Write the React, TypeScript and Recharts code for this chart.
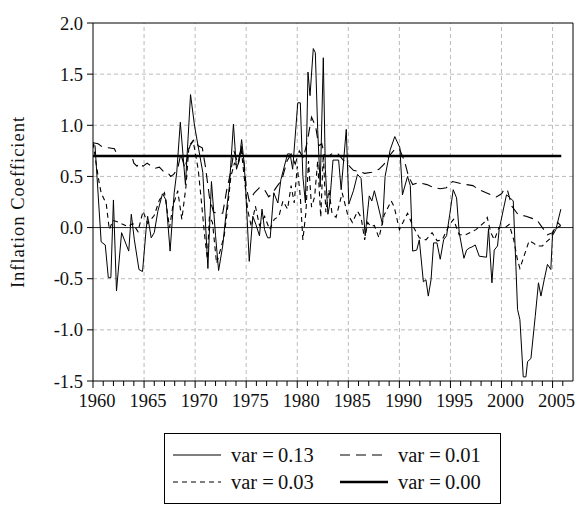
import React from 'react';
import { LineChart, Line, XAxis, YAxis, ReferenceLine, Label } from 'recharts';

type Pt = [number, number];

// var = 0.13 (thin solid, most volatile)
const var013: Pt[] = [
  [1960.0, 0.82], [1960.2, 0.8], [1960.8, -0.14], [1961.2, -0.17], [1961.5, -0.49], [1961.75, -0.49],
  [1962.0, 0.27], [1962.3, -0.62], [1962.8, -0.05], [1963.5, -0.23], [1963.75, 0.13], [1964.05, -0.12],
  [1964.5, -0.41], [1964.85, -0.43], [1965.2, -0.02], [1965.35, 0.11], [1965.7, -0.1], [1966.0, -0.05],
  [1966.35, 0.16], [1966.8, 0.33], [1967.15, 0.27], [1967.55, -0.23], [1967.95, 0.34], [1968.2, 0.54],
  [1968.55, 1.03], [1969.05, 0.42], [1969.55, 1.3], [1969.95, 0.99], [1970.75, 0.54], [1971.25, -0.4],
  [1971.6, 0.45], [1972.0, -0.08], [1972.3, -0.42], [1972.7, -0.18], [1973.0, 0.11], [1973.35, 0.4],
  [1973.75, 1.01], [1974.05, 0.57], [1974.35, 0.67], [1974.55, 0.86], [1974.8, 0.63], [1974.95, 0.37],
  [1975.3, -0.33], [1975.65, 0.11], [1975.95, 0.03], [1976.3, -0.08], [1976.55, 0.18], [1976.8, -0.02],
  [1977.1, -0.1], [1977.35, -0.1], [1977.7, 0.34], [1978.1, 0.24], [1978.4, 0.47], [1979.05, 0.72],
  [1979.3, 0.72], [1979.55, 0.57], [1980.05, 1.22], [1980.3, 1.22], [1980.55, 0.5], [1980.8, 0.24],
  [1981.05, 1.52], [1981.25, 1.29], [1981.57, 1.75], [1981.77, 1.71], [1982.0, 0.96], [1982.25, 0.4],
  [1982.55, 1.66], [1982.75, 0.57], [1983.0, 0.13], [1983.15, 0.21], [1983.5, 0.66], [1984.05, 0.66],
  [1984.3, 0.37], [1984.8, 0.96], [1985.05, 0.23], [1985.5, 0.36], [1985.9, 0.52], [1986.25, 0.48],
  [1986.65, -0.08], [1987.05, 0.31], [1987.3, 0.26], [1987.55, 0.36], [1987.85, 0.24], [1988.35, 0.03],
  [1988.6, 0.5], [1989.1, 0.76], [1989.55, 0.89], [1990.05, 0.78], [1990.3, 0.32], [1990.8, 0.5],
  [1991.07, 0.41], [1991.3, -0.23], [1991.7, -0.22], [1991.95, -0.12], [1992.35, -0.53], [1992.6, -0.51],
  [1992.83, -0.67], [1993.1, -0.51], [1993.35, -0.15], [1993.68, -0.15], [1994.0, -0.31], [1994.33, -0.12],
  [1994.62, -0.08], [1994.95, 0.14], [1995.27, 0.37], [1995.6, 0.29], [1995.86, -0.05], [1996.32, -0.3],
  [1996.58, -0.22], [1996.85, -0.2], [1997.1, -0.19], [1997.43, -0.17], [1997.82, -0.28], [1998.53, -0.29],
  [1998.73, -0.01], [1999.06, -0.54], [1999.29, -0.22], [1999.61, -0.18], [1999.77, -0.02], [2000.25, 0.21],
  [2000.49, 0.32], [2000.85, 0.29], [2001.15, 0.26], [2001.41, -0.38], [2001.57, -0.8], [2001.8, -0.9],
  [2002.13, -1.46], [2002.39, -1.46], [2002.55, -1.31], [2002.88, -1.28], [2003.3, -0.87], [2003.62, -0.54],
  [2003.86, -0.67], [2004.18, -0.51], [2004.5, -0.36], [2004.83, -0.41], [2004.99, -0.08], [2005.32, -0.02],
  [2005.81, 0.18],
];

// var = 0.01 (long dashes)
const var001: Pt[] = [
  [1960.0, 0.83], [1960.5, 0.82], [1960.9, 0.79], [1961.5, 0.78], [1962.1, 0.77], [1962.4, 0.7],
  [1963.8, 0.7], [1964.0, 0.63], [1964.3, 0.6], [1964.6, 0.63], [1964.9, 0.6], [1965.3, 0.63],
  [1965.7, 0.6], [1966.1, 0.58], [1966.5, 0.59], [1966.9, 0.55], [1967.3, 0.54], [1967.6, 0.5],
  [1967.9, 0.52], [1968.3, 0.58], [1968.6, 0.72], [1969.0, 0.58], [1969.5, 0.8], [1969.9, 0.86],
  [1970.3, 0.8], [1970.7, 0.78], [1971.0, 0.6], [1971.4, 0.3], [1971.8, 0.15], [1972.3, 0.14],
  [1972.7, 0.14], [1973.1, 0.37], [1973.5, 0.55], [1973.8, 0.75], [1974.2, 0.62], [1974.5, 0.8],
  [1974.8, 0.62], [1975.0, 0.4], [1975.3, 0.26], [1975.8, 0.34], [1976.3, 0.39], [1976.8, 0.37],
  [1977.2, 0.3], [1977.6, 0.34], [1978.0, 0.4], [1978.5, 0.47], [1979.0, 0.65], [1979.4, 0.72],
  [1979.8, 0.62], [1980.2, 0.75], [1980.6, 0.68], [1981.0, 0.85], [1981.4, 1.08], [1981.8, 0.99],
  [1982.1, 0.8], [1982.4, 0.82], [1982.7, 0.7], [1983.1, 0.7], [1983.5, 0.73], [1984.0, 0.72],
  [1984.5, 0.66], [1984.9, 0.62], [1985.5, 0.56], [1986.0, 0.55], [1986.6, 0.53], [1987.3, 0.54],
  [1988.0, 0.57], [1988.5, 0.62], [1989.0, 0.7], [1989.5, 0.76], [1990.0, 0.77], [1990.5, 0.65],
  [1990.9, 0.5], [1991.3, 0.42], [1991.9, 0.44], [1992.7, 0.42], [1993.4, 0.39], [1994.0, 0.38],
  [1994.6, 0.39], [1995.2, 0.45], [1995.6, 0.44], [1996.0, 0.43], [1996.6, 0.42], [1997.2, 0.41],
  [1997.8, 0.37], [1998.5, 0.34], [1999.0, 0.32], [1999.5, 0.3], [2000.0, 0.33], [2000.3, 0.38],
  [2000.6, 0.36], [2001.0, 0.21], [2001.6, 0.13], [2002.4, 0.11], [2003.0, 0.09], [2003.5, 0.07],
  [2004.0, 0.0], [2004.5, -0.07], [2005.0, -0.05], [2005.5, 0.05], [2005.8, 0.02],
];

// var = 0.03 (short dashes)
const var003: Pt[] = [
  [1960.0, 0.83], [1960.3, 0.63], [1960.6, 0.44], [1960.8, 0.34], [1961.3, 0.23], [1961.6, -0.02],
  [1961.95, 0.07], [1962.3, 0.06], [1962.75, 0.04], [1963.4, 0.01], [1963.9, 0.04], [1964.4, -0.04],
  [1964.9, 0.16], [1965.35, 0.04], [1966.0, 0.12], [1966.5, 0.27], [1967.0, 0.34], [1967.5, 0.0],
  [1967.8, 0.2], [1968.3, 0.36], [1968.7, 0.08], [1969.1, 0.4], [1969.4, 0.8], [1969.8, 0.85],
  [1970.3, 0.57], [1970.6, 0.27], [1970.9, -0.05], [1971.2, -0.31], [1971.4, 0.11], [1971.7, 0.05],
  [1972.1, -0.35], [1972.55, -0.19], [1972.85, -0.08], [1973.2, 0.21], [1973.5, 0.5], [1973.85, 0.63],
  [1974.2, 0.6], [1974.5, 0.78], [1974.8, 0.5], [1975.15, 0.17], [1975.5, 0.01], [1975.9, 0.21],
  [1976.3, 0.02], [1976.8, 0.11], [1977.3, -0.02], [1977.75, 0.08], [1978.2, 0.11], [1978.6, 0.26],
  [1979.05, 0.18], [1979.4, 0.41], [1979.7, 0.24], [1980.0, 0.6], [1980.3, 0.3], [1980.55, -0.12],
  [1980.85, 0.15], [1981.1, 0.65], [1981.4, 0.2], [1981.7, 0.3], [1982.0, 0.65], [1982.3, 0.1],
  [1982.55, 0.72], [1982.8, 0.15], [1983.1, 0.37], [1983.4, 0.14], [1983.8, 0.1], [1984.4, 0.34],
  [1984.9, 0.14], [1985.4, 0.05], [1985.9, 0.16], [1986.25, 0.1], [1986.6, -0.12], [1986.9, 0.05],
  [1987.2, 0.01], [1987.55, 0.02], [1988.0, -0.1], [1988.5, 0.12], [1989.2, 0.26], [1989.5, 0.2],
  [1990.0, -0.02], [1990.3, 0.04], [1990.8, 0.14], [1991.3, 0.02], [1991.95, -0.1], [1992.6, -0.12],
  [1993.2, -0.05], [1993.7, -0.13], [1994.2, -0.12], [1994.9, 0.03], [1995.3, 0.08], [1995.85, -0.07],
  [1996.5, -0.07], [1997.5, -0.02], [1998.3, 0.05], [1998.6, 0.1], [1998.95, -0.05], [1999.3, -0.12],
  [1999.75, 0.0], [2000.35, 0.0], [2000.75, 0.03], [2001.2, -0.12], [2001.55, -0.31], [2001.8, -0.4],
  [2002.2, -0.28], [2002.7, -0.13], [2003.1, -0.15], [2003.5, -0.18], [2004.0, -0.18], [2004.5, -0.13],
  [2004.85, -0.1], [2005.15, -0.02], [2005.65, 0.01], [2005.85, 0.02],
];

// var = 0.00 (thick, constant)
const var000: Pt[] = [[1960.0, 0.7], [2005.85, 0.7]];

const yTicks = [-1.5, -1.0, -0.5, 0.0, 0.5, 1.0, 1.5, 2.0];
const yGrid = [-1.0, -0.5, 0.5, 1.0, 1.5];
const xGrid = [1965, 1970, 1975, 1980, 1985, 1990, 1995, 2000, 2005];
const xTicks = Array.from({ length: 47 }, (_, i) => 1960 + i);

const FONT = '"Liberation Serif", "Times New Roman", serif';

const series = [
  { key: 'v013', name: 'var =\u20090.13', pts: var013, width: 1, dash: undefined as string | undefined },
  { key: 'v001', name: 'var =\u20090.01', pts: var001, width: 1.1, dash: '10 6' },
  { key: 'v003', name: 'var =\u20090.03', pts: var003, width: 1.1, dash: '5 4' },
  { key: 'v000', name: 'var =\u20090.00', pts: var000, width: 2.6, dash: undefined },
];

const legendOrder = ['v013', 'v001', 'v003', 'v000'];

const XTick = (props: any) => {
  const { x, y, payload } = props;
  const major = payload.value % 5 === 0;
  return (
    <g>
      <line x1={x} x2={x} y1={y} y2={y + (major ? 7 : 5)} stroke="#000" strokeWidth={1} />
      {major && (
        <text x={x + 4} y={y + 26} textAnchor="middle" fontFamily={FONT} fontSize={18.5} fill="#111">
          {payload.value}
        </text>
      )}
    </g>
  );
};

const YLabel = (props: any) => {
  const vb = props.viewBox;
  const cx = vb.x + 18;
  const cy = vb.y + vb.height / 2;
  return (
    <text x={cx} y={cy} transform={`rotate(-90 ${cx} ${cy})`} textAnchor="middle" dy="0.35em"
      fontFamily={FONT} fontSize={18.5} letterSpacing={1} fill="#111">
      Inflation Coefficient
    </text>
  );
};

const LegendBox = () => {
  const items = legendOrder.map((k) => series.find((s) => s.key === k)!);
  return (
    <div style={{
      position: 'absolute', left: 164, top: 433, width: 337, height: 71,
      border: '1px solid #000', boxSizing: 'border-box', fontFamily: FONT, fontSize: 20.5, color: '#111',
    }}>
      {items.map((s, i) => (
        <div key={s.key} style={{
          position: 'absolute', left: i % 2 === 0 ? 8 : 175, top: i < 2 ? 9 : 36,
          display: 'flex', alignItems: 'center', height: 24, whiteSpace: 'nowrap',
        }}>
          <svg width={48} height={10} style={{ marginRight: 10 }}>
            <line x1={0} x2={48} y1={5} y2={5} stroke="#000" strokeWidth={s.width}
              strokeDasharray={s.dash} />
          </svg>
          <span>{s.name}</span>
        </div>
      ))}
    </div>
  );
};

export default function App() {
  return (
    <div style={{ position: 'relative', width: 576, height: 506, background: '#fff' }}>
      <style>{'body{margin:0}'}</style>
      <LineChart width={576} height={506} margin={{ top: 23, right: 3, left: 0, bottom: 95 }}>
        <XAxis
          type="number"
          dataKey="year"
          domain={[1960, 2007]}
          ticks={xTicks}
          interval={0}
          allowDataOverflow
          tick={<XTick />}
          tickSize={0}
          tickMargin={0}
          tickLine={false}
          axisLine={{ stroke: '#000' }}
          height={30}
        />
        <YAxis
          type="number"
          domain={[-1.5, 2.0]}
          ticks={yTicks}
          interval={0}
          width={93}
          tickFormatter={(v: number) => v.toFixed(1)}
          tickSize={6}
          tickMargin={4}
          tick={{ fontFamily: FONT, fontSize: 18.5, fill: '#111' }}
          tickLine={{ stroke: '#000' }}
          axisLine={{ stroke: '#000' }}
        >
          <Label content={<YLabel />} />
        </YAxis>
        {yGrid.map((v) => (
          <ReferenceLine key={`gy${v}`} y={v} stroke="#bbb" strokeDasharray="4 3" />
        ))}
        {xGrid.map((v) => (
          <ReferenceLine key={`gx${v}`} x={v} stroke="#bbb" strokeDasharray="4 3" />
        ))}
        <ReferenceLine y={0} stroke="#222" strokeWidth={1} />
        <ReferenceLine y={2.0} stroke="#000" strokeWidth={1} />
        <ReferenceLine x={2007} stroke="#000" strokeWidth={1} />
        {series.map((s) => (
          <Line
            key={s.key}
            data={s.pts.map(([year, v]) => ({ year, v }))}
            dataKey="v"
            name={s.name}
            type="linear"
            stroke="#000"
            strokeWidth={s.width}
            strokeDasharray={s.dash}
            dot={false}
            activeDot={false}
            isAnimationActive={false}
          />
        ))}
      </LineChart>
      <LegendBox />
    </div>
  );
}
